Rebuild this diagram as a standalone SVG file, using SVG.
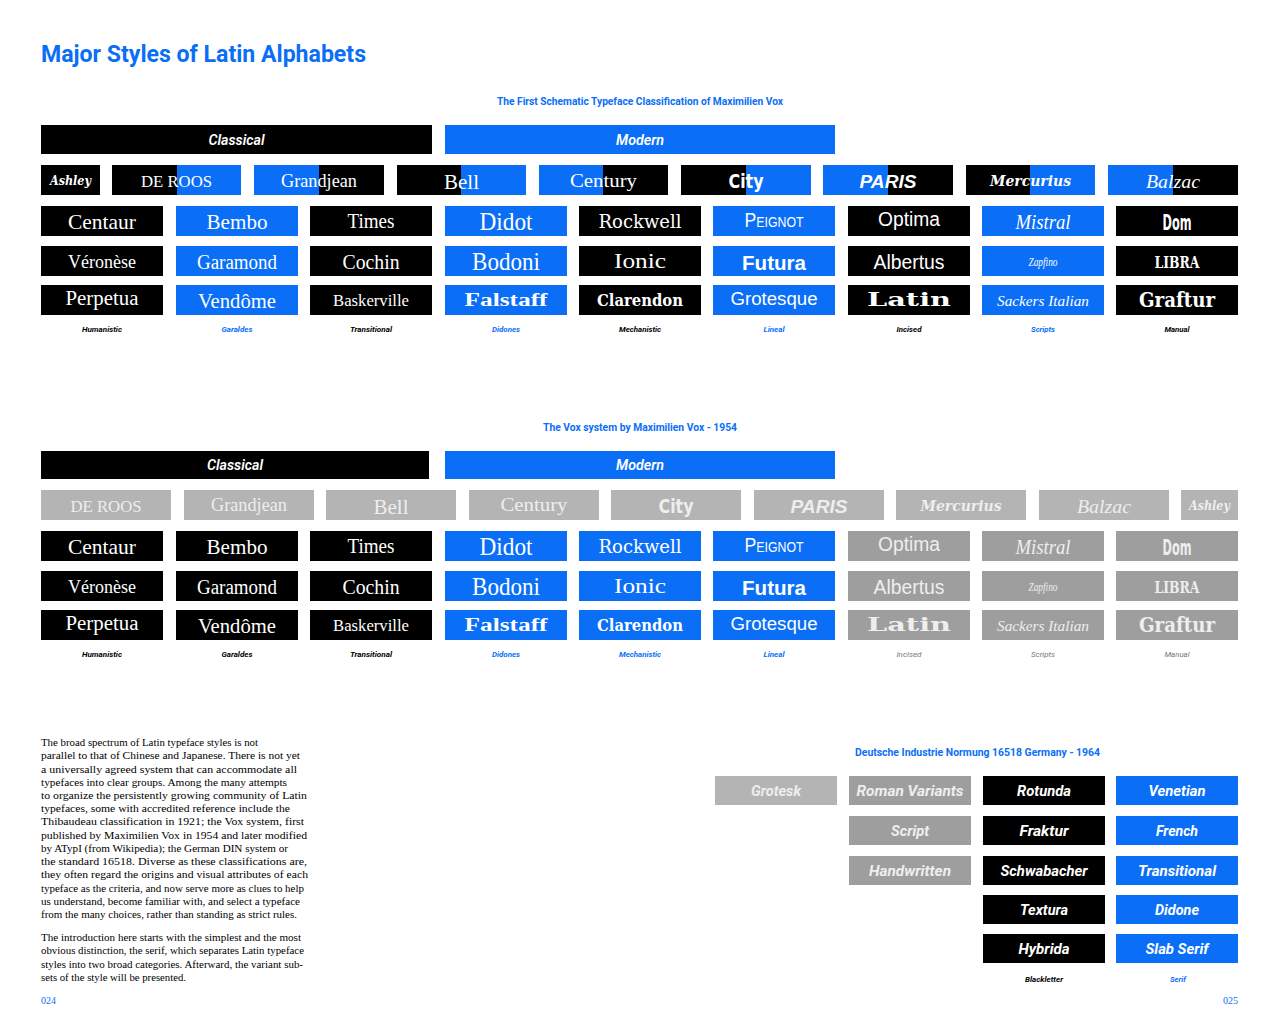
<svg xmlns="http://www.w3.org/2000/svg" width="1280" height="1024" viewBox="0 0 1280 1024">
<style>
.bk{fill:#000}
.bl{fill:#0a6ef7}
.g1{fill:#b4b4b4}
.g2{fill:#9e9e9e}
text{fill:#fff;text-anchor:middle}
.hd{font-family:"Roboto","Noto Sans",sans-serif;font-weight:700;fill:#0a6ef7}
.cat{font-family:"Roboto","Noto Sans",sans-serif;font-weight:600;font-style:italic;font-size:15px}
.lab{font-family:"Roboto","Noto Sans",sans-serif;font-weight:700;font-style:italic;font-size:8px;fill:#000}
.lab.b{fill:#0a6ef7}
.lab.g{fill:#777;font-weight:400}
.din{font-family:"Roboto","Noto Sans",sans-serif;font-weight:700;font-style:italic;font-size:14px}
.sf{font-family:"Liberation Serif","DejaVu Serif",serif}
.sfb{font-family:"Liberation Serif","DejaVu Serif",serif;font-weight:700}
.slab{font-family:"DejaVu Serif","Liberation Serif",serif;font-weight:700}
.slabr{font-family:"DejaVu Serif","Liberation Serif",serif}
.sans{font-family:"Liberation Sans","Open Sans",sans-serif}
.sansb{font-family:"Liberation Sans","Open Sans",sans-serif;font-weight:700}
.cond{font-family:"DejaVu Sans Condensed","DejaVu Sans",sans-serif;font-weight:700}
.scr{font-family:"Liberation Serif","DejaVu Serif",serif;font-style:italic}
.scrb{font-family:"DejaVu Serif","Liberation Serif",serif;font-style:italic;font-weight:700}
.blk{font-family:"DejaVu Serif Condensed","DejaVu Serif",serif;font-weight:700}
.gt{fill:#eee}
.body{font-family:"Liberation Serif","DejaVu Serif",serif;font-size:10.6px;fill:#000;text-anchor:start}
.pg{font-family:"Liberation Serif","DejaVu Serif",serif;font-size:10px;fill:#0a6ef7}
</style>

<g id="title">
<text class="hd" x="41" y="62" font-size="24" style="text-anchor:start" textLength="325" lengthAdjust="spacingAndGlyphs">Major Styles of Latin Alphabets</text>
</g>

<!-- ========== Section 1 ========== -->
<g id="s1-subtitle"><text class="hd" x="640" y="105" font-size="10.5" textLength="286" lengthAdjust="spacingAndGlyphs">The First Schematic Typeface Classification of Maximilien Vox</text></g>
<g id="s1-classical"><rect class="bk" x="41" y="125" width="391" height="29"/><text class="cat" x="236.5" y="145" textLength="56" lengthAdjust="spacingAndGlyphs">Classical</text></g>
<g id="s1-modern"><rect class="bl" x="445" y="125" width="390" height="29"/><text class="cat" x="640" y="145" textLength="48" lengthAdjust="spacingAndGlyphs">Modern</text></g>

<g id="s1-ashley"><rect class="bk" x="41" y="165" width="59" height="30"/><text class="scrb" x="70.5" y="185" font-size="13" textLength="41" lengthAdjust="spacingAndGlyphs">Ashley</text></g>
<g id="s1-deroos"><rect class="bk" x="112" y="165" width="65" height="30"/><rect class="bl" x="177" y="165" width="64" height="30"/><text class="sf" x="176.5" y="187" font-size="16" textLength="71" lengthAdjust="spacingAndGlyphs">DE ROOS</text></g>
<g id="s1-grandjean"><rect class="bl" x="254" y="165" width="65" height="30"/><rect class="bk" x="319" y="165" width="65" height="30"/><text class="sf" x="319" y="187" font-size="19" textLength="76" lengthAdjust="spacingAndGlyphs">Grandjean</text></g>
<g id="s1-bell"><rect class="bk" x="397" y="165" width="64" height="30"/><rect class="bl" x="461" y="165" width="65" height="30"/><text class="sf" x="461.5" y="189" font-size="21" textLength="35" lengthAdjust="spacingAndGlyphs">Bell</text></g>
<g id="s1-century"><rect class="bl" x="539" y="165" width="64" height="30"/><rect class="bk" x="603" y="165" width="65" height="30"/><text class="sf" x="603.5" y="187" font-size="19" textLength="67" lengthAdjust="spacingAndGlyphs">Century</text></g>
<g id="s1-city"><rect class="bk" x="681" y="165" width="65" height="30"/><rect class="bl" x="746" y="165" width="65" height="30"/><text class="cond" x="746" y="188" font-size="19" textLength="35" lengthAdjust="spacingAndGlyphs">City</text></g>
<g id="s1-paris"><rect class="bl" x="823" y="165" width="65" height="30"/><rect class="bk" x="888" y="165" width="65" height="30"/><text class="sansb" x="888" y="188" font-size="18" font-style="italic" textLength="57" lengthAdjust="spacingAndGlyphs">PARIS</text></g>
<g id="s1-mercurius"><rect class="bk" x="966" y="165" width="64" height="30"/><rect class="bl" x="1030" y="165" width="65" height="30"/><text class="scrb" x="1030.5" y="186" font-size="15" textLength="81" lengthAdjust="spacingAndGlyphs">Mercurius</text></g>
<g id="s1-balzac"><rect class="bl" x="1108" y="165" width="65" height="30"/><rect class="bk" x="1173" y="165" width="65" height="30"/><text class="scr" x="1173" y="188" font-size="19" textLength="54" lengthAdjust="spacingAndGlyphs">Balzac</text></g>

<!-- row 2 -->
<g id="s1-centaur"><rect class="bk" x="41" y="206" width="122" height="30"/><text class="sf" x="102" y="229" font-size="21" textLength="68" lengthAdjust="spacingAndGlyphs">Centaur</text></g>
<g id="s1-bembo"><rect class="bl" x="176" y="206" width="122" height="30"/><text class="sf" x="237" y="229" font-size="22" textLength="61" lengthAdjust="spacingAndGlyphs">Bembo</text></g>
<g id="s1-times"><rect class="bk" x="310" y="206" width="122" height="30"/><text class="sf" x="371" y="228" font-size="20" textLength="47" lengthAdjust="spacingAndGlyphs">Times</text></g>
<g id="s1-didot"><rect class="bl" x="445" y="206" width="122" height="30"/><text class="sf" x="506" y="230" font-size="25" textLength="53" lengthAdjust="spacingAndGlyphs">Didot</text></g>
<g id="s1-rockwell"><rect class="bk" x="579" y="206" width="122" height="30"/><text class="slabr" x="640" y="228" font-size="18" textLength="83" lengthAdjust="spacingAndGlyphs">Rockwell</text></g>
<g id="s1-peignot"><rect class="bl" x="713" y="206" width="122" height="30"/><text class="sans" x="774" y="227" font-size="20" font-variant="small-caps" textLength="59" lengthAdjust="spacingAndGlyphs">Peignot</text></g>
<g id="s1-optima"><rect class="bk" x="848" y="206" width="122" height="30"/><text class="sans" x="909" y="226" font-size="20" textLength="62" lengthAdjust="spacingAndGlyphs">Optima</text></g>
<g id="s1-mistral"><rect class="bl" x="982" y="206" width="122" height="30"/><text class="scr" x="1043" y="229" font-size="20" textLength="55" lengthAdjust="spacingAndGlyphs">Mistral</text></g>
<g id="s1-dom"><rect class="bk" x="1116" y="206" width="122" height="30"/><text class="cond" x="1177" y="230" font-size="22" textLength="29" lengthAdjust="spacingAndGlyphs">Dom</text></g>

<!-- row 3 -->
<g id="s1-veronese"><rect class="bk" x="41" y="246" width="122" height="30"/><text class="sf" x="102" y="268" font-size="19" textLength="68" lengthAdjust="spacingAndGlyphs">Véronèse</text></g>
<g id="s1-garamond"><rect class="bl" x="176" y="246" width="122" height="30"/><text class="sf" x="237" y="269" font-size="20" textLength="80" lengthAdjust="spacingAndGlyphs">Garamond</text></g>
<g id="s1-cochin"><rect class="bk" x="310" y="246" width="122" height="30"/><text class="sf" x="371" y="269" font-size="20" textLength="57" lengthAdjust="spacingAndGlyphs">Cochin</text></g>
<g id="s1-bodoni"><rect class="bl" x="445" y="246" width="122" height="30"/><text class="sf" x="506" y="270" font-size="25" textLength="68" lengthAdjust="spacingAndGlyphs">Bodoni</text></g>
<g id="s1-ionic"><rect class="bk" x="579" y="246" width="122" height="30"/><text class="sf" x="640" y="268" font-size="20" textLength="52" lengthAdjust="spacingAndGlyphs">Ionic</text></g>
<g id="s1-futura"><rect class="bl" x="713" y="246" width="122" height="30"/><text class="sansb" x="774" y="270" font-size="21" textLength="64" lengthAdjust="spacingAndGlyphs">Futura</text></g>
<g id="s1-albertus"><rect class="bk" x="848" y="246" width="122" height="30"/><text class="sans" x="909" y="269" font-size="20" textLength="71" lengthAdjust="spacingAndGlyphs">Albertus</text></g>
<g id="s1-zapfino"><rect class="bl" x="982" y="246" width="122" height="30"/><text class="scr" x="1043" y="266" font-size="13" textLength="29" lengthAdjust="spacingAndGlyphs">Zapfino</text></g>
<g id="s1-libra"><rect class="bk" x="1116" y="246" width="122" height="30"/><text class="blk" x="1177" y="268" font-size="17" textLength="45" lengthAdjust="spacingAndGlyphs">LIBRA</text></g>

<!-- row 4 -->
<g id="s1-perpetua"><rect class="bk" x="41" y="285" width="122" height="30"/><text class="sf" x="102" y="305" font-size="20" textLength="73" lengthAdjust="spacingAndGlyphs">Perpetua</text></g>
<g id="s1-vendome"><rect class="bl" x="176" y="285" width="122" height="30"/><text class="sf" x="237" y="308" font-size="21" textLength="78" lengthAdjust="spacingAndGlyphs">Vendôme</text></g>
<g id="s1-baskerville"><rect class="bk" x="310" y="285" width="122" height="30"/><text class="sf" x="371" y="306" font-size="17" textLength="76" lengthAdjust="spacingAndGlyphs">Baskerville</text></g>
<g id="s1-falstaff"><rect class="bl" x="445" y="285" width="122" height="30"/><text class="sfb" x="506" y="306" font-size="18" textLength="83" lengthAdjust="spacingAndGlyphs">Falstaff</text></g>
<g id="s1-clarendon"><rect class="bk" x="579" y="285" width="122" height="30"/><text class="slab" x="640" y="306" font-size="16" textLength="86" lengthAdjust="spacingAndGlyphs">Clarendon</text></g>
<g id="s1-grotesque"><rect class="bl" x="713" y="285" width="122" height="30"/><text class="sans" x="774" y="305" font-size="18" textLength="87" lengthAdjust="spacingAndGlyphs">Grotesque</text></g>
<g id="s1-latin"><rect class="bk" x="848" y="285" width="122" height="30"/><text class="slab" x="909" y="306" font-size="18" textLength="84" lengthAdjust="spacingAndGlyphs">Latin</text></g>
<g id="s1-sackers"><rect class="bl" x="982" y="285" width="122" height="30"/><text class="scr" x="1043" y="306" font-size="15" textLength="92" lengthAdjust="spacingAndGlyphs">Sackers Italian</text></g>
<g id="s1-graftur"><rect class="bk" x="1116" y="285" width="122" height="30"/><text class="blk" x="1177" y="307" font-size="20" textLength="76" lengthAdjust="spacingAndGlyphs">Graftur</text></g>

<g id="s1-labels">
<text class="lab" x="102" y="332" textLength="40" lengthAdjust="spacingAndGlyphs">Humanistic</text>
<text class="lab b" x="237" y="332" textLength="31" lengthAdjust="spacingAndGlyphs">Garaldes</text>
<text class="lab" x="371" y="332" textLength="42" lengthAdjust="spacingAndGlyphs">Transitional</text>
<text class="lab b" x="506" y="332" textLength="28" lengthAdjust="spacingAndGlyphs">Didones</text>
<text class="lab" x="640" y="332" textLength="42" lengthAdjust="spacingAndGlyphs">Mechanistic</text>
<text class="lab b" x="774" y="332" textLength="21" lengthAdjust="spacingAndGlyphs">Lineal</text>
<text class="lab" x="909" y="332" textLength="25" lengthAdjust="spacingAndGlyphs">Incised</text>
<text class="lab b" x="1043" y="332" textLength="24" lengthAdjust="spacingAndGlyphs">Scripts</text>
<text class="lab" x="1177" y="332" textLength="25" lengthAdjust="spacingAndGlyphs">Manual</text>
</g>

<!-- ========== Section 2 ========== -->
<g id="s2-subtitle"><text class="hd" x="640" y="431" font-size="10.5" textLength="194" lengthAdjust="spacingAndGlyphs">The Vox system by Maximilien Vox - 1954</text></g>
<g id="s2-classical"><rect class="bk" x="41" y="451" width="388" height="28"/><text class="cat" x="235" y="470" textLength="56" lengthAdjust="spacingAndGlyphs">Classical</text></g>
<g id="s2-modern"><rect class="bl" x="445" y="451" width="390" height="28"/><text class="cat" x="640" y="470" textLength="48" lengthAdjust="spacingAndGlyphs">Modern</text></g>

<g id="s2-deroos"><rect class="g1" x="41" y="490" width="130" height="30"/><text class="sf gt" x="106" y="512" font-size="16" textLength="71" lengthAdjust="spacingAndGlyphs">DE ROOS</text></g>
<g id="s2-grandjean"><rect class="g1" x="184" y="490" width="130" height="30"/><text class="sf gt" x="249" y="511" font-size="19" textLength="76" lengthAdjust="spacingAndGlyphs">Grandjean</text></g>
<g id="s2-bell"><rect class="g1" x="326" y="490" width="130" height="30"/><text class="sf gt" x="391" y="514" font-size="21" textLength="35" lengthAdjust="spacingAndGlyphs">Bell</text></g>
<g id="s2-century"><rect class="g1" x="469" y="490" width="130" height="30"/><text class="sf gt" x="534" y="511" font-size="19" textLength="67" lengthAdjust="spacingAndGlyphs">Century</text></g>
<g id="s2-city"><rect class="g1" x="611" y="490" width="130" height="30"/><text class="cond gt" x="676" y="513" font-size="19" textLength="35" lengthAdjust="spacingAndGlyphs">City</text></g>
<g id="s2-paris"><rect class="g1" x="754" y="490" width="130" height="30"/><text class="sansb gt" x="819" y="513" font-size="18" font-style="italic" textLength="57" lengthAdjust="spacingAndGlyphs">PARIS</text></g>
<g id="s2-mercurius"><rect class="g1" x="896" y="490" width="130" height="30"/><text class="scrb gt" x="961" y="511" font-size="15" textLength="81" lengthAdjust="spacingAndGlyphs">Mercurius</text></g>
<g id="s2-balzac"><rect class="g1" x="1039" y="490" width="130" height="30"/><text class="scr gt" x="1104" y="513" font-size="19" textLength="54" lengthAdjust="spacingAndGlyphs">Balzac</text></g>
<g id="s2-ashley"><rect class="g1" x="1181" y="490" width="57" height="30"/><text class="scrb gt" x="1209.5" y="510" font-size="13" textLength="41" lengthAdjust="spacingAndGlyphs">Ashley</text></g>

<!-- row 2 -->
<g id="s2-centaur"><rect class="bk" x="41" y="531" width="122" height="30"/><text class="sf" x="102" y="554" font-size="21" textLength="68" lengthAdjust="spacingAndGlyphs">Centaur</text></g>
<g id="s2-bembo"><rect class="bk" x="176" y="531" width="122" height="30"/><text class="sf" x="237" y="554" font-size="22" textLength="61" lengthAdjust="spacingAndGlyphs">Bembo</text></g>
<g id="s2-times"><rect class="bk" x="310" y="531" width="122" height="30"/><text class="sf" x="371" y="553" font-size="20" textLength="47" lengthAdjust="spacingAndGlyphs">Times</text></g>
<g id="s2-didot"><rect class="bl" x="445" y="531" width="122" height="30"/><text class="sf" x="506" y="555" font-size="25" textLength="53" lengthAdjust="spacingAndGlyphs">Didot</text></g>
<g id="s2-rockwell"><rect class="bl" x="579" y="531" width="122" height="30"/><text class="slabr" x="640" y="553" font-size="18" textLength="83" lengthAdjust="spacingAndGlyphs">Rockwell</text></g>
<g id="s2-peignot"><rect class="bl" x="713" y="531" width="122" height="30"/><text class="sans" x="774" y="552" font-size="20" font-variant="small-caps" textLength="59" lengthAdjust="spacingAndGlyphs">Peignot</text></g>
<g id="s2-optima"><rect class="g2" x="848" y="531" width="122" height="30"/><text class="sans gt" x="909" y="551" font-size="20" textLength="62" lengthAdjust="spacingAndGlyphs">Optima</text></g>
<g id="s2-mistral"><rect class="g2" x="982" y="531" width="122" height="30"/><text class="scr gt" x="1043" y="554" font-size="20" textLength="55" lengthAdjust="spacingAndGlyphs">Mistral</text></g>
<g id="s2-dom"><rect class="g2" x="1116" y="531" width="122" height="30"/><text class="cond gt" x="1177" y="555" font-size="22" textLength="29" lengthAdjust="spacingAndGlyphs">Dom</text></g>

<!-- row 3 -->
<g id="s2-veronese"><rect class="bk" x="41" y="571" width="122" height="30"/><text class="sf" x="102" y="593" font-size="19" textLength="68" lengthAdjust="spacingAndGlyphs">Véronèse</text></g>
<g id="s2-garamond"><rect class="bk" x="176" y="571" width="122" height="30"/><text class="sf" x="237" y="594" font-size="20" textLength="80" lengthAdjust="spacingAndGlyphs">Garamond</text></g>
<g id="s2-cochin"><rect class="bk" x="310" y="571" width="122" height="30"/><text class="sf" x="371" y="594" font-size="20" textLength="57" lengthAdjust="spacingAndGlyphs">Cochin</text></g>
<g id="s2-bodoni"><rect class="bl" x="445" y="571" width="122" height="30"/><text class="sf" x="506" y="595" font-size="25" textLength="68" lengthAdjust="spacingAndGlyphs">Bodoni</text></g>
<g id="s2-ionic"><rect class="bl" x="579" y="571" width="122" height="30"/><text class="sf" x="640" y="593" font-size="20" textLength="52" lengthAdjust="spacingAndGlyphs">Ionic</text></g>
<g id="s2-futura"><rect class="bl" x="713" y="571" width="122" height="30"/><text class="sansb" x="774" y="595" font-size="21" textLength="64" lengthAdjust="spacingAndGlyphs">Futura</text></g>
<g id="s2-albertus"><rect class="g2" x="848" y="571" width="122" height="30"/><text class="sans gt" x="909" y="594" font-size="20" textLength="71" lengthAdjust="spacingAndGlyphs">Albertus</text></g>
<g id="s2-zapfino"><rect class="g2" x="982" y="571" width="122" height="30"/><text class="scr gt" x="1043" y="591" font-size="13" textLength="29" lengthAdjust="spacingAndGlyphs">Zapfino</text></g>
<g id="s2-libra"><rect class="g2" x="1116" y="571" width="122" height="30"/><text class="blk gt" x="1177" y="593" font-size="17" textLength="45" lengthAdjust="spacingAndGlyphs">LIBRA</text></g>

<!-- row 4 -->
<g id="s2-perpetua"><rect class="bk" x="41" y="610" width="122" height="30"/><text class="sf" x="102" y="630" font-size="20" textLength="73" lengthAdjust="spacingAndGlyphs">Perpetua</text></g>
<g id="s2-vendome"><rect class="bk" x="176" y="610" width="122" height="30"/><text class="sf" x="237" y="633" font-size="21" textLength="78" lengthAdjust="spacingAndGlyphs">Vendôme</text></g>
<g id="s2-baskerville"><rect class="bk" x="310" y="610" width="122" height="30"/><text class="sf" x="371" y="631" font-size="17" textLength="76" lengthAdjust="spacingAndGlyphs">Baskerville</text></g>
<g id="s2-falstaff"><rect class="bl" x="445" y="610" width="122" height="30"/><text class="sfb" x="506" y="631" font-size="18" textLength="83" lengthAdjust="spacingAndGlyphs">Falstaff</text></g>
<g id="s2-clarendon"><rect class="bl" x="579" y="610" width="122" height="30"/><text class="slab" x="640" y="631" font-size="16" textLength="86" lengthAdjust="spacingAndGlyphs">Clarendon</text></g>
<g id="s2-grotesque"><rect class="bl" x="713" y="610" width="122" height="30"/><text class="sans" x="774" y="630" font-size="18" textLength="87" lengthAdjust="spacingAndGlyphs">Grotesque</text></g>
<g id="s2-latin"><rect class="g2" x="848" y="610" width="122" height="30"/><text class="slab gt" x="909" y="631" font-size="18" textLength="84" lengthAdjust="spacingAndGlyphs">Latin</text></g>
<g id="s2-sackers"><rect class="g2" x="982" y="610" width="122" height="30"/><text class="scr gt" x="1043" y="631" font-size="15" textLength="92" lengthAdjust="spacingAndGlyphs">Sackers Italian</text></g>
<g id="s2-graftur"><rect class="g2" x="1116" y="610" width="122" height="30"/><text class="blk gt" x="1177" y="632" font-size="20" textLength="76" lengthAdjust="spacingAndGlyphs">Graftur</text></g>

<g id="s2-labels">
<text class="lab" x="102" y="657" textLength="40" lengthAdjust="spacingAndGlyphs">Humanistic</text>
<text class="lab" x="237" y="657" textLength="31" lengthAdjust="spacingAndGlyphs">Garaldes</text>
<text class="lab" x="371" y="657" textLength="42" lengthAdjust="spacingAndGlyphs">Transitional</text>
<text class="lab b" x="506" y="657" textLength="28" lengthAdjust="spacingAndGlyphs">Didones</text>
<text class="lab b" x="640" y="657" textLength="42" lengthAdjust="spacingAndGlyphs">Mechanistic</text>
<text class="lab b" x="774" y="657" textLength="21" lengthAdjust="spacingAndGlyphs">Lineal</text>
<text class="lab g" x="909" y="657" textLength="25" lengthAdjust="spacingAndGlyphs">Incised</text>
<text class="lab g" x="1043" y="657" textLength="24" lengthAdjust="spacingAndGlyphs">Scripts</text>
<text class="lab g" x="1177" y="657" textLength="25" lengthAdjust="spacingAndGlyphs">Manual</text>
</g>

<!-- ========== Body text ========== -->
<g id="body-text">
<text class="body" x="41" y="746" textLength="217" lengthAdjust="spacingAndGlyphs">The broad spectrum of Latin typeface styles is not</text>
<text class="body" x="41" y="759.2" textLength="259" lengthAdjust="spacingAndGlyphs">parallel to that of Chinese and Japanese. There is not yet</text>
<text class="body" x="41" y="772.5" textLength="256" lengthAdjust="spacingAndGlyphs">a universally agreed system that can accommodate all</text>
<text class="body" x="41" y="785.7" textLength="246" lengthAdjust="spacingAndGlyphs">typefaces into clear groups. Among the many attempts</text>
<text class="body" x="41" y="798.9" textLength="266" lengthAdjust="spacingAndGlyphs">to organize the persistently growing community of Latin</text>
<text class="body" x="41" y="812.2" textLength="249" lengthAdjust="spacingAndGlyphs">typefaces, some with accredited reference include the</text>
<text class="body" x="41" y="825.4" textLength="263" lengthAdjust="spacingAndGlyphs">Thibaudeau classification in 1921; the Vox system, first</text>
<text class="body" x="41" y="838.6" textLength="266" lengthAdjust="spacingAndGlyphs">published by Maximilien Vox in 1954 and later modified</text>
<text class="body" x="41" y="851.8" textLength="247" lengthAdjust="spacingAndGlyphs">by ATypI (from Wikipedia); the German DIN system or</text>
<text class="body" x="41" y="865.1" textLength="266" lengthAdjust="spacingAndGlyphs">the standard 16518. Diverse as these classifications are,</text>
<text class="body" x="41" y="878.3" textLength="267" lengthAdjust="spacingAndGlyphs">they often regard the origins and visual attributes of each</text>
<text class="body" x="41" y="891.5" textLength="263" lengthAdjust="spacingAndGlyphs">typeface as the criteria, and now serve more as clues to help</text>
<text class="body" x="41" y="904.8" textLength="259" lengthAdjust="spacingAndGlyphs">us understand, become familiar with, and select a typeface</text>
<text class="body" x="41" y="918" textLength="256" lengthAdjust="spacingAndGlyphs">from the many choices, rather than standing as strict rules.</text>
<text class="body" x="41" y="941" textLength="260" lengthAdjust="spacingAndGlyphs">The introduction here starts with the simplest and the most</text>
<text class="body" x="41" y="954.2" textLength="263" lengthAdjust="spacingAndGlyphs">obvious distinction, the serif, which separates Latin typeface</text>
<text class="body" x="41" y="967.5" textLength="262" lengthAdjust="spacingAndGlyphs">styles into two broad categories. Afterward, the variant sub-</text>
<text class="body" x="41" y="980.7" textLength="145" lengthAdjust="spacingAndGlyphs">sets of the style will be presented.</text>
</g>
<g id="page-numbers">
<text class="pg" x="41" y="1004" style="text-anchor:start">024</text>
<text class="pg" x="1238" y="1004" style="text-anchor:end">025</text>
</g>

<!-- ========== DIN ========== -->
<g id="din-title"><text class="hd" x="977.5" y="756" font-size="10.5" textLength="245" lengthAdjust="spacingAndGlyphs">Deutsche Industrie Normung 16518 Germany - 1964</text></g>
<g id="din-grotesk"><rect class="g1" x="715" y="776" width="122" height="29"/><text class="din gt" x="776" y="796" textLength="50" lengthAdjust="spacingAndGlyphs">Grotesk</text></g>
<g id="din-roman"><rect class="g2" x="849" y="776" width="122" height="29"/><text class="din gt" x="910" y="796" textLength="107" lengthAdjust="spacingAndGlyphs">Roman Variants</text></g>
<g id="din-script"><rect class="g2" x="849" y="816" width="122" height="29"/><text class="din gt" x="910" y="836" textLength="38" lengthAdjust="spacingAndGlyphs">Script</text></g>
<g id="din-handwritten"><rect class="g2" x="849" y="856" width="122" height="29"/><text class="din gt" x="910" y="876" textLength="82" lengthAdjust="spacingAndGlyphs">Handwritten</text></g>
<g id="din-rotunda"><rect class="bk" x="983" y="776" width="122" height="29"/><text class="din" x="1044" y="796" textLength="54" lengthAdjust="spacingAndGlyphs">Rotunda</text></g>
<g id="din-fraktur"><rect class="bk" x="983" y="816" width="122" height="29"/><text class="din" x="1044" y="836" textLength="49" lengthAdjust="spacingAndGlyphs">Fraktur</text></g>
<g id="din-schwabacher"><rect class="bk" x="983" y="856" width="122" height="29"/><text class="din" x="1044" y="876" textLength="87" lengthAdjust="spacingAndGlyphs">Schwabacher</text></g>
<g id="din-textura"><rect class="bk" x="983" y="895" width="122" height="29"/><text class="din" x="1044" y="915" textLength="48" lengthAdjust="spacingAndGlyphs">Textura</text></g>
<g id="din-hybrida"><rect class="bk" x="983" y="934" width="122" height="29"/><text class="din" x="1044" y="954" textLength="51" lengthAdjust="spacingAndGlyphs">Hybrida</text></g>
<g id="din-venetian"><rect class="bl" x="1116" y="776" width="122" height="29"/><text class="din" x="1177" y="796" textLength="57" lengthAdjust="spacingAndGlyphs">Venetian</text></g>
<g id="din-french"><rect class="bl" x="1116" y="816" width="122" height="29"/><text class="din" x="1177" y="836" textLength="42" lengthAdjust="spacingAndGlyphs">French</text></g>
<g id="din-transitional"><rect class="bl" x="1116" y="856" width="122" height="29"/><text class="din" x="1177" y="876" textLength="78" lengthAdjust="spacingAndGlyphs">Transitional</text></g>
<g id="din-didone"><rect class="bl" x="1116" y="895" width="122" height="29"/><text class="din" x="1177" y="915" textLength="44" lengthAdjust="spacingAndGlyphs">Didone</text></g>
<g id="din-slabserif"><rect class="bl" x="1116" y="934" width="122" height="29"/><text class="din" x="1177" y="954" textLength="63" lengthAdjust="spacingAndGlyphs">Slab Serif</text></g>
<g id="din-labels">
<text class="lab" x="1044" y="982" textLength="38" lengthAdjust="spacingAndGlyphs">Blackletter</text>
<text class="lab b" x="1178" y="982" textLength="16" lengthAdjust="spacingAndGlyphs">Serif</text>
</g>
</svg>
